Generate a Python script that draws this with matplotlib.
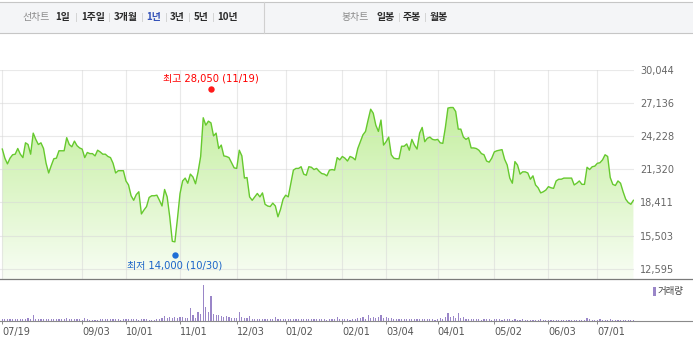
import matplotlib
matplotlib.use('Agg')
import matplotlib.pyplot as plt
import numpy as np
from matplotlib.colors import LinearSegmentedColormap
from matplotlib.transforms import offset_copy
from matplotlib.patches import Rectangle, Polygon
from matplotlib.lines import Line2D

# ---------------- data ----------------
prices = [
    23100, 22300, 21800, 22300, 22600, 22650, 23150, 22650, 22350, 23650,
    23500, 22650, 24500, 23950, 23500, 23650, 23150, 21850, 21000, 21650,
    22250, 22300, 22950, 22950, 22950, 24100, 23500, 23300, 23800, 23400,
    23200, 23100, 22350, 22800, 22700, 22700, 22500, 23000, 22850, 22650,
    22650, 22450, 22350, 21850, 21000, 21200, 21200, 21200, 20300, 19950,
    19000, 18600, 19100, 19350, 17400, 17750, 18050, 18850, 19000, 19000,
    19050, 18600, 18100, 19550, 18900, 17150, 15000, 14950, 17000, 19200,
    20300, 20550, 20100, 20900, 20650, 20050, 21100, 22450, 25850, 25200,
    25550, 25400, 24250, 24500, 23150, 23450, 22500, 22450, 22350, 21900,
    21450, 21400, 23000, 22500, 20550, 20600, 18900, 18600, 18900, 19200,
    18900, 19250, 18250, 18100, 18050, 18350, 18100, 17150, 17800, 18700,
    19050, 18900, 20100, 21250, 21400, 21400, 21550, 20900, 20800, 21550,
    21500, 21300, 21400, 21150, 20950, 20900, 20750, 21250, 21300, 21250,
    22350, 22150, 22450, 22300, 22050, 22450, 22350, 22150, 23150, 23750,
    24350, 24650, 25650, 26600, 26250, 25200, 24650, 25650, 23450, 23750,
    24150, 22600, 22300, 22250, 22250, 23350, 23350, 23550, 23000, 23950,
    23450, 23100, 24500, 25000, 23750, 24050, 24150, 23950, 23900, 23950,
    23650, 23600, 25000, 26700, 26750, 26750, 26400, 24850, 24850, 24150,
    23950, 24100, 23200, 23200, 23150, 23000, 22700, 22600, 22050, 21950,
    22300, 22850, 22950, 23000, 23050, 22200, 21700, 20550, 20100, 22000,
    21700, 20900, 21100, 21100, 21000, 20450, 20750, 19950, 19700, 19250,
    19350, 19500, 19800, 19700, 19650, 20300, 20450, 20450, 20550, 20550,
    20550, 20550, 19950, 20100, 20300, 20000, 20000, 21500, 21300, 21550,
    21600, 21850, 21900, 22150, 22600, 22450, 20600, 20000, 19900, 20300,
    20100, 19350, 18700, 18400, 18250, 18600,
]

volumes = [
    70, 60, 55, 65, 50, 60, 55, 50, 60, 65,
    80, 60, 180, 70, 55, 60, 65, 70, 55, 60,
    50, 55, 60, 55, 65, 100, 70, 60, 55, 50,
    60, 45, 100, 50, 40, 20, 30, 45, 50, 55,
    50, 55, 60, 50, 55, 60, 45, 50, 55, 60,
    50, 55, 60, 45, 50, 55, 60, 30, 25, 40,
    55, 60, 90, 150, 80, 120, 100, 120, 100, 120,
    120, 100, 100, 380, 180, 100, 270, 200, 1080, 420,
    270, 750, 220, 180, 170, 150, 130, 150, 120, 90,
    100, 80, 270, 120, 100, 80, 150, 70, 60, 65,
    55, 60, 50, 55, 60, 65, 120, 70, 60, 55,
    60, 50, 55, 60, 65, 55, 50, 60, 55, 50,
    55, 60, 50, 55, 60, 50, 45, 55, 60, 50,
    120, 70, 60, 55, 50, 45, 55, 60, 80, 100,
    110, 70, 180, 90, 120, 80, 130, 170, 90, 110,
    80, 100, 60, 55, 50, 55, 60, 50, 55, 60,
    50, 55, 60, 55, 50, 55, 50, 60, 45, 55,
    80, 60, 120, 240, 130, 150, 90, 250, 100, 120,
    70, 60, 55, 50, 55, 50, 45, 50, 55, 50,
    45, 50, 55, 50, 45, 50, 55, 50, 45, 50,
    40, 45, 50, 40, 45, 40, 35, 45, 40, 50,
    40, 45, 35, 40, 30, 45, 40, 35, 40, 45,
    30, 40, 45, 40, 35, 40, 45, 100, 50, 45,
    40, 45, 50, 45, 40, 45, 50, 40, 45, 40,
    45, 40, 35, 40, 45, 40,
]

tick_idx = [0, 31, 48, 69, 91, 110, 132, 149, 169, 191, 212, 231]
tick_labels = ['07/19', '09/03', '10/01', '11/01', '12/03', '01/02',
               '02/01', '03/04', '04/01', '05/02', '06/03', '07/01']
y_ticks = [12595, 15503, 18411, 21320, 24228, 27136, 30044]
y_tick_labels = ['12,595', '15,503', '18,411', '21,320', '24,228', '27,136', '30,044']

high_idx, high_val, high_label = 81, 28050, '최고 28,050 (11/19)'
low_idx, low_val, low_label = 67, 14000, '최저 14,000 (10/30)'

menu_left = ['선차트', '1일', '1주일', '3개월', '1년', '3년', '5년', '10년']
menu_right = ['봉차트', '일봉', '주봉', '월봉']
volume_label = '거래량'

# ---------------- layout (pixels) ----------------
W, H = 693, 340
plot_right = 634
main_top, main_bottom, vol_bottom = 70, 279, 321
x0_px, step_px = 2.3, 2.576
ymin, ymax = 11688, 30044
vmax = 1260

CJK = ['Noto Sans CJK KR', 'DejaVu Sans']
MIX = ['DejaVu Sans', 'Noto Sans CJK KR']

fig = plt.figure(figsize=(W / 100, H / 100), dpi=100)
fig.patch.set_facecolor('white')

xlim = (-x0_px / step_px, (plot_right - x0_px) / step_px)
x = np.arange(len(prices))

# ---------------- main price axes ----------------
ax = fig.add_axes([0, (H - main_bottom) / H, plot_right / W, (main_bottom - main_top) / H])
ax.set_facecolor('none')

cmap = LinearSegmentedColormap.from_list('g', ['#f8fdf4', '#b9ec8d'])
grad = np.linspace(0, 1, 256).reshape(-1, 1)
im = ax.imshow(grad, extent=[x[0], x[-1], ymin, ymax], origin='lower',
               aspect='auto', cmap=cmap, zorder=1, interpolation='bilinear')
verts = np.vstack([np.column_stack([x, prices]), [[x[-1], ymin], [x[0], ymin]]])
poly = Polygon(verts, closed=True, facecolor='none', edgecolor='none')
ax.add_patch(poly)
im.set_clip_path(poly)

for v in y_ticks:
    ax.axhline(v, color='#d8d8d8', lw=0.8, alpha=0.55, zorder=2)
for t in tick_idx:
    ax.axvline(t, color='#d8d8d8', lw=0.8, alpha=0.55, zorder=2)

ax.plot(x, prices, color='#66c92e', lw=1.0, zorder=3, solid_joinstyle='round')

ax.set_xlim(*xlim)
ax.set_ylim(ymin, ymax)
ax.yaxis.tick_right()
ax.set_yticks(y_ticks, y_tick_labels)
ax.tick_params(axis='y', length=0, pad=4.5, labelsize=7, labelcolor='#666666')
ax.set_xticks([])
for s in ax.spines.values():
    s.set_visible(False)

tr_up = offset_copy(ax.transData, fig=fig, x=0, y=2.4, units='points')
tr_dn = offset_copy(ax.transData, fig=fig, x=0, y=-1.7, units='points')
ax.plot([high_idx], [high_val], 'o', color='#ff1a1a', ms=4.6, mew=0,
        transform=tr_up, zorder=5, clip_on=False)
ax.plot([low_idx], [low_val], 'o', color='#1f6fd6', ms=4.6, mew=0,
        transform=tr_dn, zorder=5, clip_on=False)
ax.annotate(high_label, (high_idx, high_val), xytext=(0, 9.9), textcoords='offset points',
            ha='center', va='center', color='#ff0000', fontsize=7.2, family=MIX,
            annotation_clip=False)
ax.annotate(low_label, (low_idx, low_val), xytext=(0, -9.4), textcoords='offset points',
            ha='center', va='center', color='#1a64c8', fontsize=7.2, family=MIX,
            annotation_clip=False)

# ---------------- volume axes ----------------
vax = fig.add_axes([0, (H - vol_bottom) / H, plot_right / W, (vol_bottom - main_bottom) / H])
vax.set_facecolor('none')
vax.bar(x, volumes, width=0.45, color='#9a86c8', linewidth=0)
vax.set_xlim(*xlim)
vax.set_ylim(0, vmax)
vax.set_xticks(tick_idx, tick_labels)
vax.tick_params(axis='x', length=2.3, width=0.7, color='#888888', pad=2.2,
                labelsize=7, labelcolor='#555555')
for lab in vax.get_xticklabels():
    lab.set_ha('left')
vax.set_yticks([])
for s in vax.spines.values():
    s.set_visible(False)

# ---------------- overlay decorations ----------------
ov = fig.add_axes([0, 0, 1, 1], zorder=10)
ov.set_xlim(0, W)
ov.set_ylim(H, 0)
ov.axis('off')
ov.patch.set_alpha(0)

ov.add_patch(Rectangle((-2, 1.5), W + 4, 31, facecolor='#f4f5f7',
                       edgecolor='#c6c6c6', lw=0.8))
ov.add_line(Line2D([264.3, 264.3], [1.5, 32.5], color='#d0d0d0', lw=0.8))

menu_fs = 7.1
left_x = [36.5, 63, 93.5, 125.5, 154, 177.5, 201.5, 227.5]
for i, (lbl, cx) in enumerate(zip(menu_left, left_x)):
    if i == 0:
        ov.text(cx, 16.8, lbl, ha='center', va='center', fontsize=menu_fs,
                color='#8a8a8a', family=CJK)
    else:
        col = '#3452b8' if lbl == '1년' else '#2b2b2b'
        ov.text(cx, 16.8, lbl, ha='center', va='center', fontsize=menu_fs,
                color=col, family=CJK, fontweight='bold')
for sx in [76, 109, 142, 166, 189, 213]:
    ov.add_line(Line2D([sx, sx], [13, 21], color='#d4d4d4', lw=0.7))

right_x = [355.5, 385.5, 411.5, 439]
for i, (lbl, cx) in enumerate(zip(menu_right, right_x)):
    if i == 0:
        ov.text(cx, 16.8, lbl, ha='center', va='center', fontsize=menu_fs,
                color='#8a8a8a', family=CJK)
    else:
        ov.text(cx, 16.8, lbl, ha='center', va='center', fontsize=menu_fs,
                color='#2b2b2b', family=CJK, fontweight='bold')
for sx in [399, 425]:
    ov.add_line(Line2D([sx, sx], [13, 21], color='#d4d4d4', lw=0.7))

ov.add_line(Line2D([0, W], [278.5, 278.5], color='#7a7a7a', lw=0.9))
ov.add_line(Line2D([0, W], [321, 321], color='#8a8a8a', lw=0.8))

ov.add_patch(Rectangle((653.3, 287.3), 2.8, 8.5, facecolor='#9a86c8', edgecolor='none'))
ov.text(658, 291.8, volume_label, ha='left', va='center', fontsize=6.8,
        color='#444444', family=CJK)

fig.savefig('out.png', dpi=100, facecolor='white')
